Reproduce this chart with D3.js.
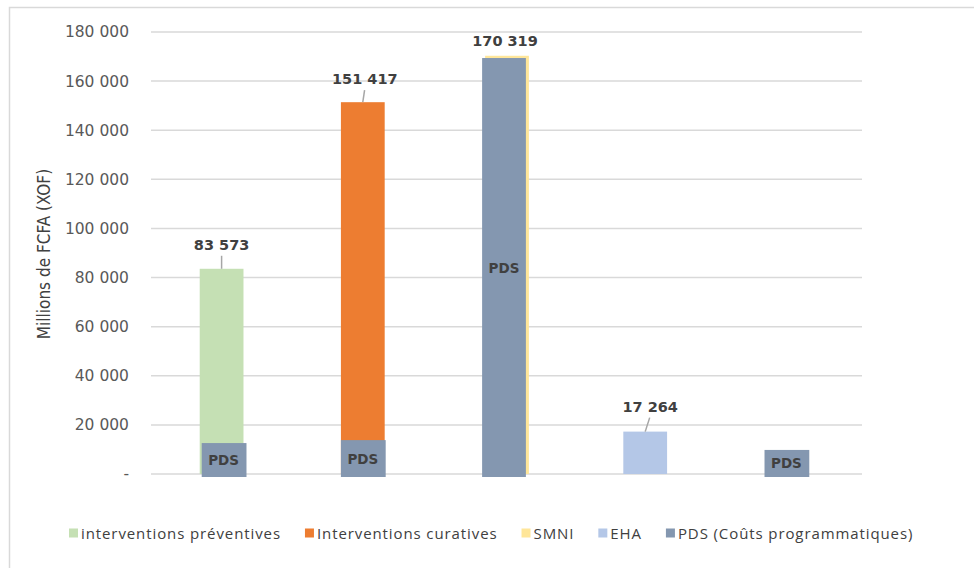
<!DOCTYPE html>
<html>
<head>
<meta charset="utf-8">
<script src="https://cdn.jsdelivr.net/npm/d3@7"></script>
<style>
  body { margin: 0; background: #fff; }
  svg { display: block; }
</style>
</head>
<body>
<div id="chart"></div>
<script>
const width = 974;
const height = 568;

// data
const categories = ["interventions préventives", "Interventions curatives", "SMNI", "EHA", "PDS (Coûts programmatiques)"];
const mainValues = [83573, 151417, 170319, 17264, 0];
const pdsValues = [12600, 13800, 169400, 0, 9800];
const labelled = [true, true, true, true, false];
const yTicks = [0, 20000, 40000, 60000, 80000, 100000, 120000, 140000, 160000, 180000];

const colors = ["#c5e0b4", "#ed7d31", "#ffe699", "#b4c7e7", "#8497b0"];

const fmt = (v) => (v === 0 ? "-" : d3.format(",")(v).replace(/,/g, " "));

const svg = d3
  .select("#chart")
  .append("svg")
  .attr("width", width)
  .attr("height", height);

// outer chart border
svg
  .append("rect")
  .attr("x", 9.5)
  .attr("y", 7.5)
  .attr("width", 1000)
  .attr("height", 600)
  .attr("fill", "none")
  .attr("stroke", "#d9d9d9")
  .attr("stroke-width", 1.5);

const x = d3.scaleBand().domain(d3.range(categories.length)).range([151, 857]).paddingInner(0.69).paddingOuter(0.345);
const y = d3.scaleLinear().domain([0, 180000]).range([474, 32]);

// gridlines
svg
  .append("g")
  .selectAll("line")
  .data(yTicks)
  .enter()
  .append("line")
  .attr("x1", 151)
  .attr("x2", 862)
  .attr("y1", (d) => y(d))
  .attr("y2", (d) => y(d))
  .attr("stroke", "#d9d9d9")
  .attr("stroke-width", 1.5);

// y axis labels
const yAxis = d3.axisLeft(y).tickValues(yTicks).tickFormat(fmt).tickSize(0).tickPadding(0);
svg
  .append("g")
  .attr("transform", "translate(129,0)")
  .call(yAxis)
  .call((g) => g.select(".domain").remove())
  .selectAll("text")
  .attr("font-family", "'DejaVu Sans', sans-serif")
  .attr("font-size", 15.5)
  .attr("fill", "#595959");

svg
  .append("text")
  .attr("transform", "translate(45,254) rotate(-90)")
  .attr("text-anchor", "middle")
  .attr("dominant-baseline", "middle")
  .attr("font-family", "'Liberation Sans Narrow', 'DejaVu Sans Condensed', sans-serif")
  .attr("font-size", 17)
  .attr("fill", "#404040")
  .text("Millions de FCFA (XOF)");

const bw = x.bandwidth();

// main series bars
svg
  .append("g")
  .selectAll("rect")
  .data(mainValues.map((v, i) => ({ v, i })).filter((d) => d.v > 0))
  .enter()
  .append("rect")
  .attr("x", (d) => x(d.i) + (d.i === 2 ? 3 : 0))
  .attr("y", (d) => y(d.v))
  .attr("width", bw)
  .attr("height", (d) => y(0) - y(d.v))
  .attr("fill", (d) => colors[d.i]);

// PDS overlay bars
const pds = svg
  .append("g")
  .selectAll("g")
  .data(pdsValues.map((v, i) => ({ v, i })).filter((d) => d.v > 0))
  .enter()
  .append("g");

pds
  .append("rect")
  .attr("x", (d) => x(d.i) + (d.i === 0 ? 2 : 0))
  .attr("y", (d) => y(d.v))
  .attr("width", (d) => (d.i === 2 ? bw : bw + 1))
  .attr("height", (d) => y(0) - y(d.v) + 3)
  .attr("fill", colors[4]);

pds
  .append("text")
  .attr("x", (d) => x(d.i) + (d.i === 0 ? 2 : 0) + bw / 2)
  .attr("y", (d) => (y(d.v) + y(0) + 3) / 2)
  .attr("text-anchor", "middle")
  .attr("dominant-baseline", "central")
  .attr("font-family", "'DejaVu Sans', sans-serif")
  .attr("font-weight", "bold")
  .attr("font-size", 13.5)
  .attr("fill", "#404040")
  .text("PDS");

// data labels with leader lines
const lift = [24, 23, 15, 25, 0];
const shift = [0, 2, 0, 5, 0];
const lab = svg
  .append("g")
  .selectAll("g")
  .data(mainValues.map((v, i) => ({ v, i })).filter((d) => labelled[d.i] && d.v > 0))
  .enter()
  .append("g");

lab
  .filter((d) => lift[d.i] > 20)
  .append("line")
  .attr("x1", (d) => x(d.i) + bw / 2 + shift[d.i] * 0.9)
  .attr("y1", (d) => y(d.v) - lift[d.i] + 11)
  .attr("x2", (d) => x(d.i) + bw / 2)
  .attr("y2", (d) => y(d.v))
  .attr("stroke", "#a6a6a6")
  .attr("stroke-width", 1.5);

lab
  .append("text")
  .attr("x", (d) => x(d.i) + bw / 2 + shift[d.i] + (d.i === 2 ? 1 : 0))
  .attr("y", (d) => y(d.v) - lift[d.i])
  .attr("text-anchor", "middle")
  .attr("dominant-baseline", "central")
  .attr("font-family", "'DejaVu Sans', sans-serif")
  .attr("font-weight", "bold")
  .attr("font-size", 14.5)
  .attr("fill", "#404040")
  .text((d) => fmt(d.v));

// legend, laid out one item after the other
const legend = svg.append("g").attr("transform", "translate(69,533)");
let lx = 0;
categories.forEach((name, i) => {
  const item = legend.append("g").attr("transform", `translate(${lx},0)`);
  item
    .append("rect")
    .attr("x", 0)
    .attr("y", -4.5)
    .attr("width", 9)
    .attr("height", 9)
    .attr("fill", colors[i]);
  const t = item
    .append("text")
    .attr("x", 12)
    .attr("y", 0)
    .attr("dominant-baseline", "central")
    .attr("font-family", "'Open Sans', sans-serif")
    .attr("font-size", 15)
    .attr("letter-spacing", 0.9)
    .attr("fill", "#404040")
    .text(name);
  lx += 12 + t.node().getComputedTextLength() + 24;
});
</script>
</body>
</html>
